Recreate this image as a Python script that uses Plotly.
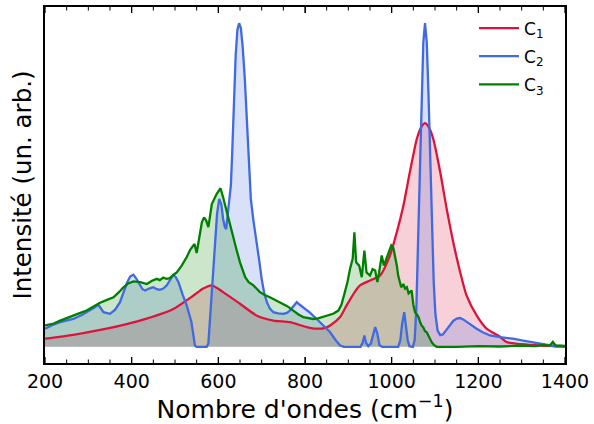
import plotly.graph_objects as go

# ---- data ----
c1_x = [200, 265, 342, 419, 496, 542, 565, 585, 611, 650, 688, 727, 765, 804, 827, 845, 858,
        881, 896, 915, 927, 950, 973, 996, 1012, 1027, 1042, 1058, 1068, 1077, 1086, 1096,
        1112, 1127, 1142, 1158, 1173, 1196, 1219, 1250, 1265, 1300, 1342, 1400]
c1_y = [0.025, 0.037, 0.056, 0.081, 0.117, 0.158, 0.18, 0.19, 0.169, 0.133, 0.097, 0.081,
        0.076, 0.061, 0.056, 0.058, 0.066, 0.092, 0.128, 0.17, 0.19, 0.205, 0.22, 0.282,
        0.355, 0.436, 0.54, 0.642, 0.678, 0.691, 0.678, 0.642, 0.54, 0.426, 0.324, 0.231,
        0.158, 0.097, 0.056, 0.031, 0.015, 0.008, 0.004, 0.002]

c2_x = [200, 215, 235, 250, 265, 285, 304, 315, 323, 330, 335, 350, 362, 373, 382, 390, 397,
        404, 411, 419, 425, 431, 440, 450, 458, 465, 473, 481, 490, 496, 502, 508, 518, 527,
        533, 538, 542, 546, 550, 573, 577, 582, 587, 592, 597, 602, 607, 611, 615, 618, 621,
        625, 629, 632, 636, 640, 644, 648, 652, 656, 661, 665, 670, 675, 681, 688, 694, 700,
        706, 712, 719, 727, 738, 750, 758, 765, 773, 781, 788, 796, 812, 827, 843, 858, 870,
        881, 890, 928, 933, 937, 941, 946, 952, 957, 962, 967, 972, 978, 1015, 1020, 1024,
        1029, 1033, 1037, 1041, 1049, 1053, 1057, 1061, 1065, 1069, 1073, 1077, 1081, 1085,
        1089, 1093, 1097, 1101, 1106, 1112, 1118, 1125, 1133, 1142, 1150, 1158, 1166, 1175,
        1185, 1196, 1210, 1227, 1250, 1265, 1280, 1300, 1320, 1342, 1360, 1380, 1400]
c2_y = [0.056, 0.066, 0.076, 0.08, 0.086, 0.098, 0.112, 0.122, 0.13, 0.115, 0.107, 0.102,
        0.115, 0.138, 0.17, 0.2, 0.218, 0.223, 0.21, 0.19, 0.178, 0.174, 0.18, 0.184, 0.178,
        0.176, 0.18, 0.19, 0.212, 0.222, 0.215, 0.2, 0.16, 0.128, 0.1, 0.076, 0.04, 0.004,
        0.0, 0.0, 0.01, 0.108, 0.21, 0.313, 0.41, 0.457, 0.44, 0.395, 0.37, 0.364, 0.4,
        0.457, 0.5, 0.6, 0.76, 0.9, 0.98, 1.0, 0.985, 0.93, 0.83, 0.735, 0.6, 0.457, 0.39,
        0.333, 0.27, 0.21, 0.165, 0.138, 0.118, 0.107, 0.103, 0.102, 0.105, 0.112, 0.125,
        0.138, 0.13, 0.122, 0.105, 0.086, 0.066, 0.045, 0.022, 0.004, 0.0, 0.0, 0.012, 0.035,
        0.012, 0.002, 0.01, 0.04, 0.061, 0.04, 0.005, 0.0, 0.0, 0.02, 0.07, 0.107, 0.07, 0.02,
        0.002, 0.0, 0.02, 0.12, 0.33, 0.55, 0.77, 0.94, 1.0, 0.94, 0.78, 0.56, 0.36, 0.2, 0.1,
        0.05, 0.036, 0.038, 0.05, 0.066, 0.08, 0.087, 0.089, 0.084, 0.075, 0.065, 0.056,
        0.045, 0.035, 0.03, 0.028, 0.025, 0.02, 0.015, 0.009, 0.004, 0.001, 0.0]

c3_x = [200, 220, 235, 250, 265, 280, 296, 312, 327, 343, 358, 370, 381, 392, 404, 420, 435,
        447, 458, 465, 473, 480, 488, 496, 504, 515, 527, 535, 540, 545, 550, 555, 562, 567,
        572, 577, 585, 596, 600, 605, 611, 617, 623, 629, 635, 642, 650, 656, 662, 670, 681,
        696, 707, 719, 735, 750, 760, 773, 785, 796, 808, 819, 830, 842, 855, 865, 877, 884,
        892, 898, 904, 910, 914, 918, 925, 931, 937, 942, 950, 956, 962, 967, 971, 977, 982,
        988, 993, 999, 1004, 1008, 1012, 1015, 1019, 1022, 1027, 1031, 1035, 1039, 1042,
        1046, 1050, 1054, 1058, 1062, 1066, 1069, 1073, 1077, 1081, 1085, 1088, 1092, 1098,
        1104, 1150, 1200, 1250, 1300, 1330, 1350, 1365, 1372, 1378, 1400]
c3_y = [0.066, 0.072, 0.081, 0.088, 0.097, 0.104, 0.112, 0.124, 0.136, 0.145, 0.153, 0.168,
        0.184, 0.196, 0.202, 0.2, 0.194, 0.204, 0.21, 0.206, 0.214, 0.21, 0.212, 0.222, 0.23,
        0.25, 0.277, 0.3, 0.31, 0.318, 0.29, 0.33, 0.385, 0.4, 0.39, 0.37, 0.441, 0.472, 0.48,
        0.49, 0.462, 0.43, 0.395, 0.36, 0.333, 0.3, 0.261, 0.235, 0.215, 0.2, 0.19, 0.169,
        0.16, 0.153, 0.143, 0.133, 0.125, 0.112, 0.1, 0.092, 0.088, 0.086, 0.088, 0.092,
        0.098, 0.102, 0.112, 0.13, 0.169, 0.2, 0.241, 0.272, 0.354, 0.261, 0.251, 0.215,
        0.297, 0.23, 0.22, 0.24, 0.236, 0.2, 0.23, 0.282, 0.251, 0.272, 0.29, 0.313, 0.305,
        0.282, 0.25, 0.22, 0.2, 0.184, 0.194, 0.18, 0.184, 0.165, 0.169, 0.174, 0.13, 0.107,
        0.1, 0.092, 0.075, 0.066, 0.06, 0.048, 0.045, 0.035, 0.028, 0.015, 0.005, 0.0, 0.0,
        0.002, 0.001, 0.004, 0.002, 0.006, 0.004, 0.015, 0.004, 0.003]

names = ["C<sub>1</sub>", "C<sub>2</sub>", "C<sub>3</sub>"]
x_ticks = [200, 400, 600, 800, 1000, 1200, 1400]
x_minor_ticks = [v for v in range(200, 1401, 50) if v not in x_ticks]

# ---- styles ----
line_colors = ["#DC143C", "#4169E1", "#008000"]
fill_colors = ["rgba(220,20,60,0.2)", "rgba(65,105,225,0.2)", "rgba(0,128,0,0.2)"]
line_shapes = ["spline", "linear", "linear"]
FONT = "DejaVu Sans"
PLOT_H = 424 - 7 - 61
MAJ_LEN = 6 / PLOT_H
MIN_LEN = 3.5 / PLOT_H

fig = go.Figure()
series = [(c1_x, c1_y), (c2_x, c2_y), (c3_x, c3_y)]
# fills first (so that all lines sit on top of every fill)
for (xs, ys), fc, sh in zip(series, fill_colors, line_shapes):
    fig.add_trace(go.Scatter(x=xs, y=ys, mode="lines", fill="tozeroy", fillcolor=fc,
                             line=dict(width=0, color=fc, shape=sh, smoothing=0.6),
                             showlegend=False, hoverinfo="skip"))
for (xs, ys), lc, nm, sh, i in zip(series, line_colors, names, line_shapes, range(3)):
    fig.add_trace(go.Scatter(x=xs, y=ys, mode="lines", name=nm, legendgroup=f"g{i}",
                             line=dict(color=lc, width=2.3, shape=sh, smoothing=0.6)))

# inward tick marks on bottom and top edges (placed via the x axis scale)
for ticks, tl, tw in [(x_ticks, MAJ_LEN, 1.3), (x_minor_ticks, MIN_LEN, 1.0)]:
    for v in ticks:
        fig.add_shape(type="line", xref="x", yref="y domain", x0=v, x1=v, y0=0, y1=tl,
                      line=dict(color="black", width=tw), layer="above")
        fig.add_shape(type="line", xref="x", yref="y domain", x0=v, x1=v, y0=1 - tl, y1=1,
                      line=dict(color="black", width=tw), layer="above")

fig.update_layout(
    width=594, height=424,
    margin=dict(l=45, r=29, t=7, b=61),
    paper_bgcolor="white", plot_bgcolor="white",
    font=dict(family=FONT, color="black"),
    showlegend=True,
    legend=dict(x=0.825, y=0.99, xanchor="left", yanchor="top",
                font=dict(size=17, family=FONT), bgcolor="rgba(0,0,0,0)",
                itemwidth=40, tracegroupgap=3),
    xaxis=dict(range=[200, 1400], tickmode="array", tickvals=x_ticks,
               ticktext=[str(v) for v in x_ticks],
               ticks="inside", ticklen=6, tickwidth=1.3, tickcolor="black",
               showline=True, linecolor="black", linewidth=1.5, mirror="allticks",
               showgrid=False, zeroline=False, automargin=False,
               tickfont=dict(size=19, family=FONT),
               title=dict(text="Nombre d'ondes (cm<sup>−1</sup>)",
                          font=dict(size=25, family=FONT), standoff=4)),
    yaxis=dict(range=[-0.05, 1.05], showticklabels=False, ticks="",
               showline=True, linecolor="black", linewidth=1.5, mirror=True,
               showgrid=False, zeroline=False, automargin=False,
               title=dict(text="Intensité (un. arb.)", font=dict(size=24.5, family=FONT),
                          standoff=5)),
)

fig.write_html("out.html", config={"displayModeBar": False},
               post_script="document.body.style.margin='0';document.body.style.padding='0';")
